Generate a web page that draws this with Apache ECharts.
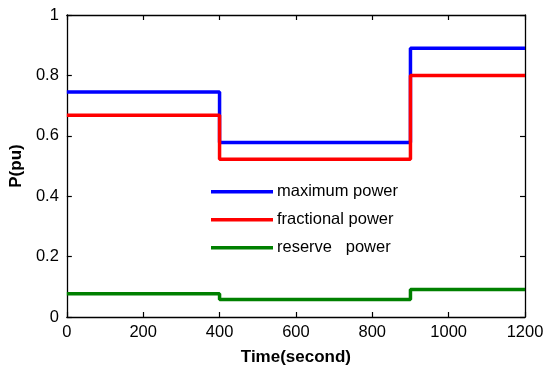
<!DOCTYPE html>
<html><head><meta charset="utf-8">
<script src="https://cdn.jsdelivr.net/npm/echarts@6/dist/echarts.min.js"></script>
<style>html,body{margin:0;padding:0;background:#fff}#c{width:550px;height:379px}</style>
</head><body><div id="c"></div>
<script>
const times = [0, 400, 900, 1200];
const maxPower = [0.745, 0.578, 0.89, 0.89];
const fracPower = [0.668, 0.522, 0.80, 0.80];
const reservePower = [0.077, 0.058, 0.091, 0.091];
const seriesNames = ['maximum power', 'fractional power', 'reserve   power'];
const colors = ['#0000ff', '#ff0000', '#008000'];
const xTicks = [0, 200, 400, 600, 800, 1000, 1200];
const yTicks = [0, 0.2, 0.4, 0.6, 0.8, 1];

const font = 'Liberation Sans, Arial, sans-serif';
const pts = v => times.map((t, i) => [t, v[i]]);
const axisLine = {show: true, onZero: false, lineStyle: {color: '#000', width: 1.3}};
const tick = {show: true, inside: true, length: 5, lineStyle: {color: '#000', width: 1.2}};
const chart = echarts.init(document.getElementById('c'), null, {renderer: 'canvas'});
const mk = (name, vals, col) => ({
  name, type: 'line', step: 'end', data: pts(vals), showSymbol: false, symbol: 'none',
  lineStyle: {color: col, width: 3.5}, itemStyle: {color: col}, animation: false, z: 3
});
chart.setOption({
  animation: false,
  textStyle: {fontFamily: font},
  grid: {left: 66, right: 25, top: 15, bottom: 62},
  legend: {
    orient: 'vertical', left: 211, top: 182.5, padding: 0,
    icon: 'rect', itemWidth: 62, itemHeight: 3.5, itemGap: 9.5,
    textStyle: {fontFamily: font, fontSize: 16.5, color: '#000', padding: [0, 0, 0, -1], lineHeight: 18.5},
    data: seriesNames
  },
  xAxis: [{
    type: 'value', min: 0, max: 1200, interval: 200,
    name: 'Time(second)', nameLocation: 'middle', nameGap: 32,
    nameTextStyle: {fontFamily: font, fontSize: 17, fontWeight: 'bold', color: '#000'},
    axisLine, axisTick: tick,
    axisLabel: {color: '#000', fontSize: 16.5, fontFamily: font, margin: 7,
      formatter: v => xTicks.includes(v) ? String(v) : ''},
    splitLine: {show: false}
  }, {
    type: 'value', position: 'top', min: 0, max: 1200, interval: 200,
    axisLine, axisTick: tick,
    axisLabel: {show: false}, splitLine: {show: false}
  }],
  yAxis: [{
    type: 'value', min: 0, max: 1, interval: 0.2,
    name: 'P(pu)', nameLocation: 'middle', nameGap: 40, nameRotate: 90,
    nameTextStyle: {fontFamily: font, fontSize: 17, fontWeight: 'bold', color: '#000'},
    axisLine, axisTick: tick,
    axisLabel: {color: '#000', fontSize: 16.5, fontFamily: font, margin: 8,
      formatter: v => { const t = yTicks.find(y => Math.abs(y - v) < 1e-9); return t === undefined ? '' : String(+t.toFixed(1)); }},
    splitLine: {show: false}
  }, {
    type: 'value', position: 'right', min: 0, max: 1, interval: 0.2,
    axisLine, axisTick: tick,
    axisLabel: {show: false}, splitLine: {show: false}
  }],
  series: [
    mk(seriesNames[0], maxPower, colors[0]),
    mk(seriesNames[1], fracPower, colors[1]),
    mk(seriesNames[2], reservePower, colors[2])
  ]
});
</script></body></html>
